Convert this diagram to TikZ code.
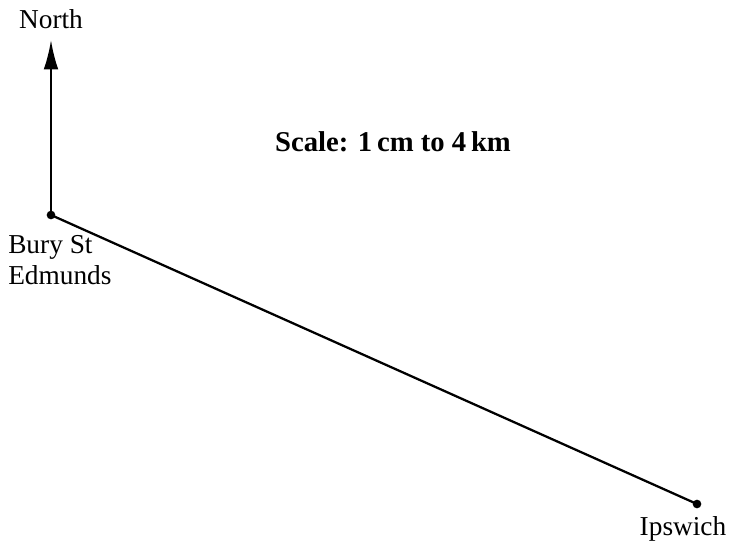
\documentclass[tikz,border=0pt]{standalone}
\usepackage{fontspec}
\setmainfont{Liberation Serif}
\usetikzlibrary{positioning,arrows.meta}

\begin{document}
\begin{tikzpicture}[
    x=0.75pt, y=-0.75pt,
    town/.style  = {circle,fill,inner sep=0pt,minimum size=6.5pt},
    place/.style = {font=\fontsize{20.5}{23.5}\selectfont,align=left,inner sep=0pt},
    road/.style  = {line width=1.7pt},
    >={Latex[length=22pt,width=11pt]}
  ]
  \useasboundingbox (0,0) rectangle (731,543);

  % towns
  \node[town] (B) at (51,215) {};
  \node[town] (I) at (697,504) {};
  \coordinate (N) at (51,40);

  \draw[road] (B.center) -- (I.center);
  \draw[road,->] (B.center) -- (N);

  % labels
  \node[place,anchor=base] (north) at (51,28) {North};
  \node[place,anchor=north west] (bury) at (8,235) {Bury St\\Edmunds};
  \node[place,anchor=base] (ips) at (683,535) {Ipswich};
  \node[place,font=\bfseries\fontsize{21.5}{23.5}\selectfont,anchor=base] (scale) at (393,151) {Scale: 1\,cm to 4\,km};

\end{tikzpicture}
\end{document}
